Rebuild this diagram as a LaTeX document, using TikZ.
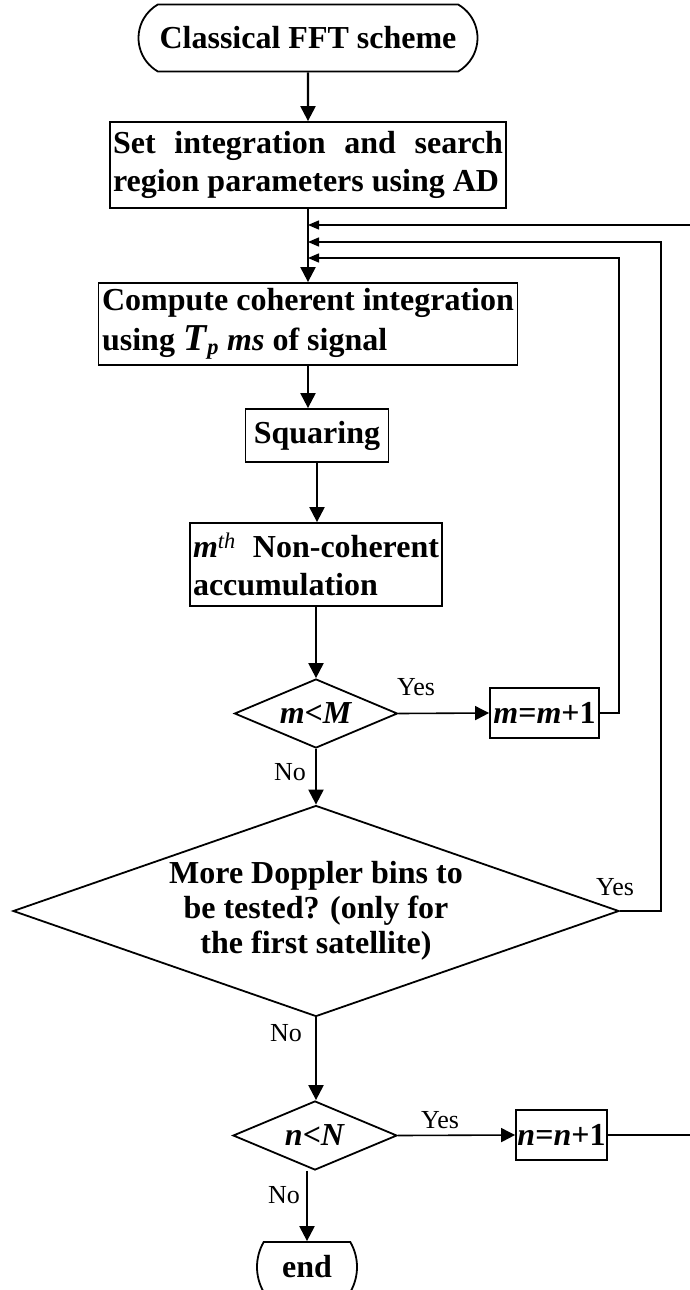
\documentclass[tikz,border=0pt]{standalone}
\usepackage{fontspec}
\setmainfont{Liberation Serif}
\usetikzlibrary{arrows.meta,shapes.geometric,shapes.misc}

\begin{document}
\begin{tikzpicture}[x=1pt,y=-1pt,
  box/.style={draw, line width=1.8pt, inner sep=3pt, font=\bfseries\fontsize{32}{38}\selectfont},
  dia/.style={draw, diamond, line width=1.8pt, inner sep=0pt, font=\bfseries\fontsize{32}{35}\selectfont},
  term/.style={draw, rounded rectangle, line width=1.8pt, inner sep=0pt, font=\bfseries\fontsize{32}{38}\selectfont},
  lbl/.style={inner sep=0pt, font=\fontsize{26}{28}\selectfont},
  arr/.style={line width=2.2pt, -{Triangle[length=15pt,width=15pt]}},
  harr/.style={line width=1.6pt, -{Triangle[length=14pt,width=14pt]}},
  back/.style={line width=1.4pt, -{Triangle[length=11pt,width=9pt]}}]
  \useasboundingbox (0,0) rectangle (690,1290);
  % main column
  \node[term, rounded rectangle arc length=120, minimum width=339pt, minimum height=67pt] (start) at (308,38) {Classical FFT scheme};
  \node[box, text width=390pt, align=justify, minimum height=86pt] (setp) at (308,165)
    {Set integration and search\linebreak region parameters using AD};
  \node[box, align=left, inner xsep=2pt, minimum width=419pt, minimum height=82pt] (coh) at (308,324)
    {Compute coherent integration\\[2pt] using {\fontsize{38}{38}\selectfont\textit{T}}\textsubscript{\textit{p}} \textit{ms} of signal};
  \node[box, minimum width=143pt, minimum height=53pt] (sq) at (317,435.5) {Squaring};
  \node[box, text width=246pt, align=justify, minimum height=83pt] (acc) at (316,564.5)
    {\textit{m}\textsuperscript{\textit{\mdseries th}} Non-coherent\linebreak accumulation};
  % tests
  \node[dia, shape aspect=2.36, minimum width=163pt, minimum height=69pt] (mM) at (316,713.5) {\textit{m}<\textit{M}};
  \node[box, inner sep=2pt, minimum width=109pt, minimum height=50pt] (minc) at (544.5,713) {\textit{m}=\textit{m}+1};
  \node[dia, shape aspect=2.9, align=center, minimum width=606pt, minimum height=211pt] (dop) at (316,911)
    {More Doppler bins to\\ be tested? (only for\\ the first satellite)};
  \node[dia, shape aspect=2.36, minimum width=164pt, minimum height=69pt] (nN) at (315,1135.5) {\textit{n}<\textit{N}};
  \node[box, inner sep=1pt, minimum width=91pt, minimum height=50pt] (ninc) at (561.5,1135) {\textit{n}=\textit{n}+1};
  \node[term, rounded rectangle arc length=60, minimum width=61pt, minimum height=50pt] (stop) at (307,1267) {end};
  % yes / no
  \node[lbl] (y1) at (416,687) {Yes};
  \node[lbl] (n1) at (290,772) {No};
  \node[lbl] (y2) at (615,887) {Yes};
  \node[lbl] (n2) at (286,1033) {No};
  \node[lbl] (y3) at (440,1120) {Yes};
  \node[lbl] (n3) at (284,1195) {No};
  % joins on the trunk
  \coordinate (jn) at (308,225);
  \coordinate (jd) at (308,242);
  \coordinate (jm) at (308,258);
  % flow
  \draw[arr] (start) -- (setp);
  \draw[arr] (setp) -- (coh);
  \draw[arr] (coh.south) -- (coh.south |- sq.north);
  \draw[arr] (sq.south) -- (sq.south |- acc.north);
  \draw[arr] (acc) -- (mM);
  \draw[arr] (mM) -- (dop);
  \draw[arr] (dop.south) -- (dop.south |- nN.north);
  \draw[arr] (nN.south -| stop.north) -- (stop.north);
  \draw[harr] (mM.east) -- (minc.west);
  \draw[harr] (nN.east) -- (ninc.west);
  % loops back
  \draw[back] (minc.east) -- ++(19,0) |- (jm);
  \draw[back] (dop.east) -- ++(41,0) |- (jd);
  \draw[back] (ninc.east) -- ++(84,0) |- (jn);
\end{tikzpicture}
\end{document}
